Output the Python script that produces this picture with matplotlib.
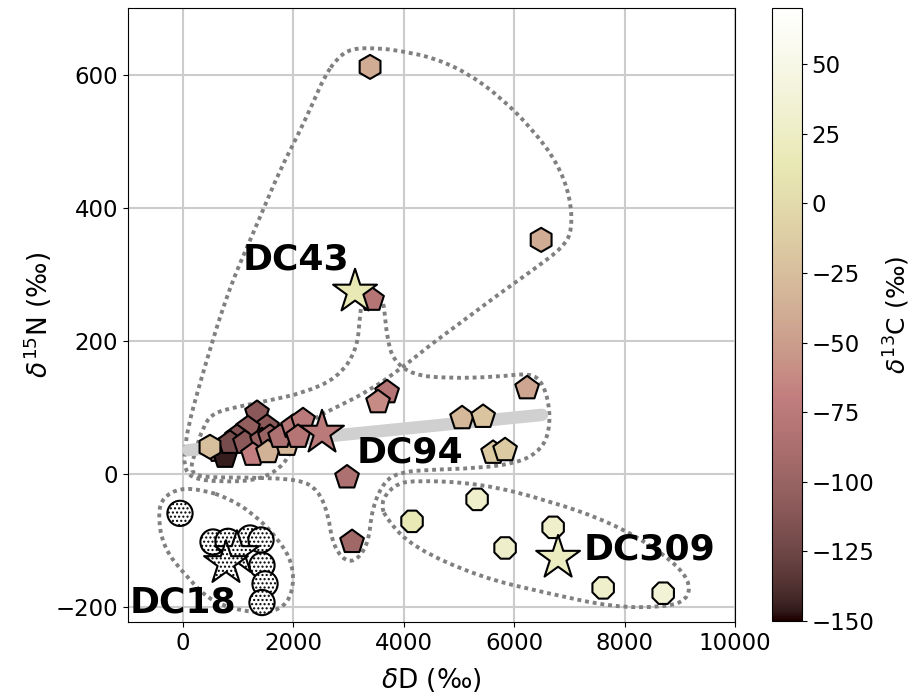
import numpy as np
import matplotlib
matplotlib.use("Agg")
import matplotlib.pyplot as plt
from matplotlib.path import Path
from matplotlib.patches import PathPatch

# ---- data ----
# DC94-like group (pentagons): dD, d15N, d13C
pent_x = [3424, 3696, 3533, 6232, 5054, 5435, 5616, 5833, 2971, 3062,
          650, 761, 1341, 1522, 1178, 978, 851, 1123, 1431, 1576,
          1268, 1540, 1884, 1758, 1993, 2174, 2084]
pent_y = [262, 123, 108, 129, 84, 86, 32, 36, -5, -102,
          35, 26, 92, 71, 69, 56, 47, 47, 51, 56,
          29, 33, 44, 56, 71, 81, 56]
pent_c = [-80, -80, -62, -45, -30, -20, -15, -15, -85, -95,
          -105, -145, -110, -110, -105, -115, -120, -110, -100, -100,
          -70, -35, -30, -85, -80, -75, -80]

# hexagons
hex_x = [3388, 6486, 489]
hex_y = [612, 352, 41]
hex_c = [-40, -40, -25]

# DC309 group (octagons)
oct_x = [4148, 5326, 5833, 6703, 7609, 8696]
oct_y = [-71, -38, -111, -80, -171, -179]
oct_c = [15, 30, 28, 30, 30, 38]

# DC18 group (no d13C -> hatched white)
circ_x = [-54, 544, 815, 1214, 1413, 1431, 1486, 1431]
circ_y = [-59, -102, -101, -96, -99, -137, -165, -193]

# named samples (stars)
star_x = [3116, 2518, 6793]
star_y = [274, 62, -126]
star_c = [15, -75, 22]
star18_x = [978, 779]
star18_y = [-119, -134]

labels = ["DC43", "DC94", "DC309", "DC18"]
label_x = [1087, 3153, 7248, -960]
label_y = [322, 32, -114, -193]

trend_x = [100, 6500]
trend_y = [36, 89]

# group outlines (control points)
big_outline = [(2790, 625), (3050, 640), (3570, 640), (3932, 636), (4530, 626),
               (5146, 603), (5744, 567), (6342, 517), (6777, 468), (7012, 417),
               (7049, 367), (6886, 341), (6342, 307), (5744, 272), (5019, 227),
               (4476, 194), (3986, 161), (3388, 126), (2790, 101), (2301, 81),
               (2029, 51), (1848, 14), (1395, -9), (670, -12), (127, -6),
               (18, 14), (36, 36), (91, 71), (308, 137), (544, 202),
               (670, 236), (906, 292), (1160, 341), (1450, 397), (1758, 457),
               (2066, 507), (2356, 558), (2560, 597)]
dc94_outline = [(3425, 280), (3624, 262), (3660, 236), (3697, 206), (3805, 171),
                (4168, 149), (4784, 144), (5690, 146), (6288, 152), (6523, 137),
                (6650, 96), (6614, 56), (6414, 32), (6052, 17), (5382, 9),
                (4294, 6), (3932, 2), (3660, -9), (3425, -50), (3352, -110),
                (3026, -137), (2718, -110), (2627, -59), (2446, -24), (2120, -8),
                (1214, -5), (308, -5), (127, 6), (217, 32), (362, 71),
                (544, 92), (978, 101), (1576, 111), (2174, 122), (2790, 144),
                (3153, 186), (3207, 242), (3261, 269)]
dc309_outline = [(3570, -44), (3805, -17), (4168, -9), (5382, -14), (6596, -39),
                 (7792, -74), (8698, -119), (9187, -159), (9133, -190), (8698, -200),
                 (7792, -200), (6596, -179), (5382, -155), (4168, -110), (3697, -69)]
dc18_outline = [(362, -24), (-54, -21), (-362, -35), (-453, -59), (-362, -110),
                (72, -155), (544, -194), (1268, -209), (1758, -205), (1993, -179),
                (1993, -134), (1703, -95), (1268, -59), (797, -35)]


def smooth_closed(pts):
    # closed quadratic b-spline drawn by matplotlib's own curve codes
    p = np.array(pts, dtype=float)
    mids = (p + np.roll(p, -1, axis=0)) / 2
    verts = [mids[-1]]
    codes = [Path.MOVETO]
    for i in range(len(p)):
        verts += [p[i], mids[i]]
        codes += [Path.CURVE3, Path.CURVE3]
    return Path(verts, codes)


cmap = plt.get_cmap("pink")
vmin, vmax = -150, 70

fig = plt.figure(figsize=(9.19, 6.94), dpi=100)
ax = fig.add_axes([0.139, 0.104, 0.661, 0.884])
cax = fig.add_axes([0.840, 0.105, 0.0326, 0.883])

ax.grid(True, color="#cccccc", lw=1.5, zorder=0)
ax.set_axisbelow(True)

for outline in [big_outline, dc94_outline, dc309_outline, dc18_outline]:
    ax.add_patch(PathPatch(smooth_closed(outline), fill=False, ec="gray",
                           lw=2.8, ls=(0, (1, 1)), zorder=1))

ax.plot(trend_x, trend_y, color="#d0d0d0", lw=9, solid_capstyle="round", zorder=2)

kw = dict(cmap=cmap, vmin=vmin, vmax=vmax, edgecolors="black", linewidths=1.5, zorder=3)
sc = ax.scatter(pent_x, pent_y, c=pent_c, marker="p", s=320, **kw)
ax.scatter(hex_x, hex_y, c=hex_c, marker="h", s=300, **kw)
ax.scatter(oct_x, oct_y, c=oct_c, marker="8", s=280, **kw)
ax.scatter(circ_x, circ_y, facecolor="white", marker="o", s=330, hatch="....",
           edgecolors="black", linewidths=1.5, zorder=3)
ax.scatter(star18_x, star18_y, facecolor="white", marker="*", s=1100, hatch="....",
           edgecolors="black", linewidths=1.5, zorder=4)
ax.scatter(star_x, star_y, c=star_c, marker="*", s=1100, **{**kw, "zorder": 4})

for name, lx, ly in zip(labels, label_x, label_y):
    ax.text(lx, ly, name, fontsize=26, fontweight="bold", ha="left", va="center", zorder=5)

ax.set_xlim(-1000, 10000)
ax.set_ylim(-222, 700)
ax.set_xticks([0, 2000, 4000, 6000, 8000, 10000])
ax.set_yticks([-200, 0, 200, 400, 600])
ax.tick_params(labelsize=16.5)
ax.set_xlabel(r"$\delta$D (‰)", fontsize=19, labelpad=8)
ax.set_ylabel(r"$\delta^{15}$N (‰)", fontsize=19, labelpad=1)

cb = fig.colorbar(sc, cax=cax)
cb.set_ticks([50, 25, 0, -25, -50, -75, -100, -125, -150])
cb.ax.tick_params(labelsize=16.5)
cb.set_label(r"$\delta^{13}$C (‰)", fontsize=18, labelpad=5)

fig.savefig("out.png", dpi=100)
